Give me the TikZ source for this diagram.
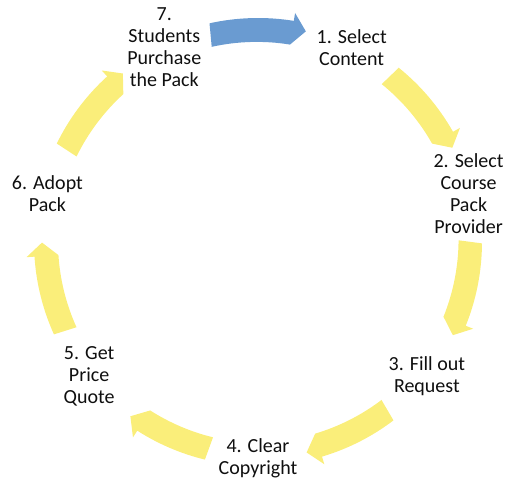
\documentclass[tikz,border=0pt]{standalone}
\usepackage{fontspec}
\setmainfont{Carlito}
\definecolor{arrowyellow}{RGB}{250,238,122}
\definecolor{arrowblue}{RGB}{106,155,209}
\definecolor{txt}{RGB}{15,15,15}
% #1 mid angle, #2 colour, #3 start offset, #4 end offset
\newcommand\cycarrow[4]{%
  \pgfmathsetmacro\cycS{#1+#3}%
  \pgfmathsetmacro\cycE{#1-#4}%
  \pgfmathsetmacro\cycH{#1-#4+3.6}%
  \fill[#2] (\cycS:224pt) arc[start angle=\cycS,end angle=\cycH,radius=224pt]
    -- (\cycH:232pt) -- (\cycE:216pt) -- (\cycH:200pt)
    arc[start angle=\cycH,end angle=\cycS,radius=208pt] -- cycle;}
\tikzset{
  stage/.style={align=center,inner sep=0pt,text=txt,font=\fontsize{20}{22}\selectfont}
}
\begin{document}
\begin{tikzpicture}
\useasboundingbox (-258pt,-244pt) rectangle (254pt,242pt);
\cycarrow{90}{arrowblue}{12.5}{12.8}
\cycarrow{38.571}{arrowyellow}{12.5}{12.7}
\cycarrow{-12.857}{arrowyellow}{12.5}{12.7}
\cycarrow{-64.286}{arrowyellow}{11.5}{12.7}
\cycarrow{-115.714}{arrowyellow}{12}{10.5}
\cycarrow{192.857}{arrowyellow}{11.5}{12.7}
\cycarrow{141.429}{arrowyellow}{12.5}{12.7}
\node[stage] (n1) at (64.286:216pt) {1. Select\\Content};
\node[stage] (n2) at (12.857:216pt) {2. Select\\Course\\Pack\\Provider};
\node[stage] (n3) at (-38.571:216pt) {3. Fill out\\Request};
\node[stage] (n4) at (-90:216pt) {4. Clear\\Copyright};
\node[stage] (n5) at (218.571:216pt) {5. Get\\Price\\Quote};
\node[stage] (n6) at (167.143:216pt) {6. Adopt\\Pack};
\node[stage] (n7) at (115.714:216pt) {7.\\Students\\Purchase\\the Pack};
\end{tikzpicture}
\end{document}
